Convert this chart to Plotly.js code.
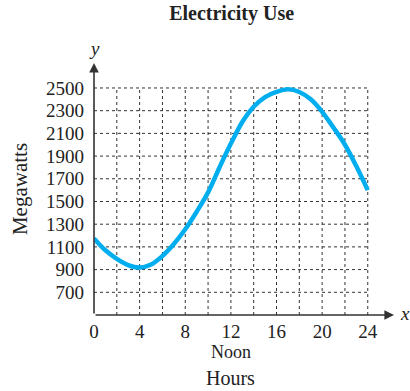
<!DOCTYPE html>
<html>
<head>
<meta charset="utf-8">
<script src="https://cdn.plot.ly/plotly-3.0.1.min.js"></script>
<style>html,body{margin:0;padding:0;background:#fff;}#chart{width:410px;height:391px;}</style>
</head>
<body>
<div id="chart"></div>
<script>
// Data
const hours = [0,1,2,3,4,5,6,7,8,9,10,11,12,13,14,15,16,17,18,19,20,21,22,23,24];
const megawatts = [1175,1070,995,940,918,945,1020,1125,1255,1410,1580,1800,2010,2200,2335,2420,2465,2488,2465,2400,2290,2150,2000,1810,1600];
const xTickVals = [0,4,8,12,16,20,24];
const xTickText = ['0','4','8','12','16','20','24'];
const yTickVals = [700,900,1100,1300,1500,1700,1900,2100,2300,2500];
const yTickText = ['700','900','1100','1300','1500','1700','1900','2100','2300','2500'];
const xGridVals = [2,4,6,8,10,12,14,16,18,20,22,24];
const yGridVals = [700,900,1100,1300,1500,1700,1900,2100,2300,2500];

const xMin = 0, xMax = 26.3, yMin = 500, yMax = 2720;
const gridTopY = 2500, gridRightX = 24;

const serif = 'Liberation Serif, Times New Roman, serif';
const shapes = [];
xGridVals.forEach(v => shapes.push({type:'line', xref:'x', yref:'y', x0:v, x1:v, y0:yMin, y1:gridTopY,
  line:{color:'#333', width:1, dash:'dot'}, layer:'below'}));
yGridVals.forEach(v => shapes.push({type:'line', xref:'x', yref:'y', x0:xMin, x1:gridRightX, y0:v, y1:v,
  line:{color:'#333', width:1, dash:'dot'}, layer:'below'}));

const trace = {x:hours, y:megawatts, type:'scatter', mode:'lines',
  line:{color:'#00AEEF', width:4.5, shape:'spline', smoothing:1}, hoverinfo:'skip'};

const layout = {
  width:410, height:391,
  margin:{l:94, r:16, t:63, b:76},
  paper_bgcolor:'#fff', plot_bgcolor:'#fff',
  showlegend:false,
  title:{text:'<b>Electricity Use</b>', font:{family:serif, size:20, color:'#222'}, x:0.565, xanchor:'center', y:0.985, yanchor:'top'},
  xaxis:{range:[xMin,xMax], tickvals:xTickVals, ticktext:xTickText, showgrid:false, zeroline:false, showline:false,
    ticks:'', ticklabelstandoff:3, tickfont:{family:serif, size:19, color:'#222'}},
  yaxis:{range:[yMin,yMax], tickvals:yTickVals, ticktext:yTickText, showgrid:false, zeroline:false, showline:false,
    ticks:'', ticklabelstandoff:9, tickfont:{family:serif, size:19, color:'#222'},
    title:{text:'Megawatts', font:{family:serif, size:21, color:'#222'}, standoff:12}},
  shapes:shapes,
  annotations:[
    {xref:'x', yref:'y', axref:'x', ayref:'y', x:xMax, y:yMin, ax:xMin, ay:yMin, showarrow:true,
      arrowhead:2, arrowsize:1.2, arrowwidth:1.6, arrowcolor:'#333', text:''},
    {xref:'x', yref:'y', axref:'x', ayref:'y', x:xMin, y:yMax, ax:xMin, ay:yMin, showarrow:true,
      arrowhead:2, arrowsize:1.2, arrowwidth:1.6, arrowcolor:'#333', text:''},
    {xref:'x', yref:'y', x:xMin, y:yMax, yshift:15, showarrow:false, text:'<i>y</i>', font:{family:serif, size:19, color:'#222'}},
    {xref:'paper', yref:'y', x:1, y:yMin, xanchor:'left', xshift:4, yshift:2, showarrow:false, text:'<i>x</i>', font:{family:serif, size:19, color:'#222'}},
    {xref:'x', yref:'paper', x:12, y:0, yshift:-37, yanchor:'middle', showarrow:false, text:'Noon', font:{family:serif, size:18, color:'#222'}},
    {xref:'x', yref:'paper', x:12, y:0, yshift:-63, yanchor:'middle', showarrow:false, text:'Hours', font:{family:serif, size:20, color:'#222'}}
  ]
};
Plotly.newPlot('chart', [trace], layout, {staticPlot:true, displayModeBar:false});
</script>
</body>
</html>
